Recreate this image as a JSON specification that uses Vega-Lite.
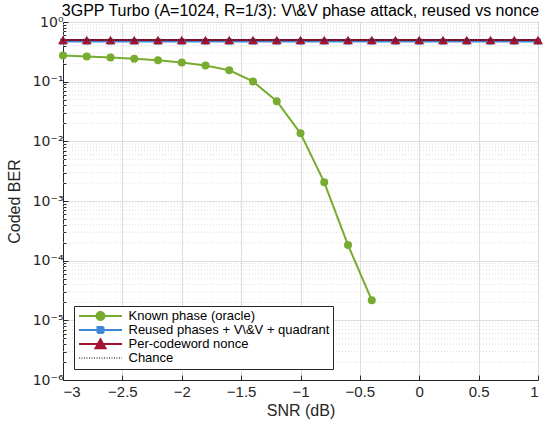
{
  "$schema": "https://vega.github.io/schema/vega-lite/v6.json",
  "autosize": "none",
  "width": 475,
  "height": 358,
  "padding": {"left": 63, "top": 22, "right": 12, "bottom": 46},
  "background": "white",
  "title": {
    "text": "3GPP Turbo (A=1024, R=1/3): V\\&V phase attack, reused vs nonce",
    "font": "Liberation Sans",
    "fontSize": 16,
    "fontWeight": "normal",
    "color": "#000000",
    "anchor": "middle",
    "offset": -4
  },
  "config": {
    "font": "Liberation Sans",
    "view": {"stroke": "#262626", "strokeWidth": 1},
    "axis": {
      "labelFont": "Liberation Sans",
      "labelColor": "#262626",
      "labelFontSize": 15,
      "titleFont": "Liberation Sans",
      "titleFontSize": 16,
      "titleFontWeight": "normal",
      "titleColor": "#262626",
      "domainColor": "#262626",
      "tickColor": "#262626",
      "gridColor": "#dedede",
      "gridOpacity": 1
    },
    "legend": {
      "orient": "bottom-left",
      "offset": 11,
      "fillColor": "white",
      "strokeColor": "#262626",
      "padding": 3.5,
      "rowPadding": 0,
      "clipHeight": 13,
      "labelFont": "Liberation Sans",
      "labelFontSize": 13,
      "labelColor": "#000000",
      "labelOffset": 38,
      "labelLimit": 320,
      "symbolSize": 100
    }
  },
  "datasets": {
    "curves": [
      {"snr": -3.0, "ber": 0.275, "series": "Known phase (oracle)"},
      {"snr": -2.8, "ber": 0.265, "series": "Known phase (oracle)"},
      {"snr": -2.6, "ber": 0.255, "series": "Known phase (oracle)"},
      {"snr": -2.4, "ber": 0.241, "series": "Known phase (oracle)"},
      {"snr": -2.2, "ber": 0.228, "series": "Known phase (oracle)"},
      {"snr": -2.0, "ber": 0.21, "series": "Known phase (oracle)"},
      {"snr": -1.8, "ber": 0.187, "series": "Known phase (oracle)"},
      {"snr": -1.6, "ber": 0.155, "series": "Known phase (oracle)"},
      {"snr": -1.4, "ber": 0.101, "series": "Known phase (oracle)"},
      {"snr": -1.2, "ber": 0.047, "series": "Known phase (oracle)"},
      {"snr": -1.0, "ber": 0.0136, "series": "Known phase (oracle)"},
      {"snr": -0.8, "ber": 0.00206, "series": "Known phase (oracle)"},
      {"snr": -0.6, "ber": 0.000183, "series": "Known phase (oracle)"},
      {"snr": -0.4, "ber": 0.0000218, "series": "Known phase (oracle)"},
      {"snr": -3.0, "ber": 0.47, "series": "Reused phases + V\\&V + quadrant"},
      {"snr": -2.8, "ber": 0.47, "series": "Reused phases + V\\&V + quadrant"},
      {"snr": -2.6, "ber": 0.47, "series": "Reused phases + V\\&V + quadrant"},
      {"snr": -2.4, "ber": 0.47, "series": "Reused phases + V\\&V + quadrant"},
      {"snr": -2.2, "ber": 0.47, "series": "Reused phases + V\\&V + quadrant"},
      {"snr": -2.0, "ber": 0.47, "series": "Reused phases + V\\&V + quadrant"},
      {"snr": -1.8, "ber": 0.47, "series": "Reused phases + V\\&V + quadrant"},
      {"snr": -1.6, "ber": 0.47, "series": "Reused phases + V\\&V + quadrant"},
      {"snr": -1.4, "ber": 0.47, "series": "Reused phases + V\\&V + quadrant"},
      {"snr": -1.2, "ber": 0.47, "series": "Reused phases + V\\&V + quadrant"},
      {"snr": -1.0, "ber": 0.47, "series": "Reused phases + V\\&V + quadrant"},
      {"snr": -0.8, "ber": 0.47, "series": "Reused phases + V\\&V + quadrant"},
      {"snr": -0.6, "ber": 0.47, "series": "Reused phases + V\\&V + quadrant"},
      {"snr": -0.4, "ber": 0.47, "series": "Reused phases + V\\&V + quadrant"},
      {"snr": -0.2, "ber": 0.47, "series": "Reused phases + V\\&V + quadrant"},
      {"snr": 0.0, "ber": 0.47, "series": "Reused phases + V\\&V + quadrant"},
      {"snr": 0.2, "ber": 0.47, "series": "Reused phases + V\\&V + quadrant"},
      {"snr": 0.4, "ber": 0.47, "series": "Reused phases + V\\&V + quadrant"},
      {"snr": 0.6, "ber": 0.47, "series": "Reused phases + V\\&V + quadrant"},
      {"snr": 0.8, "ber": 0.47, "series": "Reused phases + V\\&V + quadrant"},
      {"snr": 1.0, "ber": 0.47, "series": "Reused phases + V\\&V + quadrant"},
      {"snr": -3.0, "ber": 0.5, "series": "Per-codeword nonce"},
      {"snr": -2.8, "ber": 0.5, "series": "Per-codeword nonce"},
      {"snr": -2.6, "ber": 0.5, "series": "Per-codeword nonce"},
      {"snr": -2.4, "ber": 0.5, "series": "Per-codeword nonce"},
      {"snr": -2.2, "ber": 0.5, "series": "Per-codeword nonce"},
      {"snr": -2.0, "ber": 0.5, "series": "Per-codeword nonce"},
      {"snr": -1.8, "ber": 0.5, "series": "Per-codeword nonce"},
      {"snr": -1.6, "ber": 0.5, "series": "Per-codeword nonce"},
      {"snr": -1.4, "ber": 0.5, "series": "Per-codeword nonce"},
      {"snr": -1.2, "ber": 0.5, "series": "Per-codeword nonce"},
      {"snr": -1.0, "ber": 0.5, "series": "Per-codeword nonce"},
      {"snr": -0.8, "ber": 0.5, "series": "Per-codeword nonce"},
      {"snr": -0.6, "ber": 0.5, "series": "Per-codeword nonce"},
      {"snr": -0.4, "ber": 0.5, "series": "Per-codeword nonce"},
      {"snr": -0.2, "ber": 0.5, "series": "Per-codeword nonce"},
      {"snr": 0.0, "ber": 0.5, "series": "Per-codeword nonce"},
      {"snr": 0.2, "ber": 0.5, "series": "Per-codeword nonce"},
      {"snr": 0.4, "ber": 0.5, "series": "Per-codeword nonce"},
      {"snr": 0.6, "ber": 0.5, "series": "Per-codeword nonce"},
      {"snr": 0.8, "ber": 0.5, "series": "Per-codeword nonce"},
      {"snr": 1.0, "ber": 0.5, "series": "Per-codeword nonce"},
      {"snr": -3.0, "ber": 0.5, "series": "Chance"},
      {"snr": 1.0, "ber": 0.5, "series": "Chance"}
    ],
    "minor": [
      {"v": 2e-6}, {"v": 3e-6}, {"v": 4e-6}, {"v": 5e-6}, {"v": 6e-6}, {"v": 7e-6}, {"v": 8e-6}, {"v": 9e-6},
      {"v": 2e-5}, {"v": 3e-5}, {"v": 4e-5}, {"v": 5e-5}, {"v": 6e-5}, {"v": 7e-5}, {"v": 8e-5}, {"v": 9e-5},
      {"v": 2e-4}, {"v": 3e-4}, {"v": 4e-4}, {"v": 5e-4}, {"v": 6e-4}, {"v": 7e-4}, {"v": 8e-4}, {"v": 9e-4},
      {"v": 0.002}, {"v": 0.003}, {"v": 0.004}, {"v": 0.005}, {"v": 0.006}, {"v": 0.007}, {"v": 0.008}, {"v": 0.009},
      {"v": 0.02}, {"v": 0.03}, {"v": 0.04}, {"v": 0.05}, {"v": 0.06}, {"v": 0.07}, {"v": 0.08}, {"v": 0.09},
      {"v": 0.2}, {"v": 0.3}, {"v": 0.4}, {"v": 0.5}, {"v": 0.6}, {"v": 0.7}, {"v": 0.8}, {"v": 0.9}
    ]
  },
  "layer": [
    {
      "data": {"name": "minor"},
      "mark": {"type": "rule", "color": "#d6d6d6", "strokeWidth": 0.8, "strokeDash": [1, 2]},
      "encoding": {
        "y": {
          "field": "v",
          "type": "quantitative",
          "scale": {"type": "log", "domain": [0.000001, 1], "nice": false},
          "axis": {
            "orient": "left",
            "values": [2e-6, 3e-6, 4e-6, 5e-6, 6e-6, 7e-6, 8e-6, 9e-6, 2e-5, 3e-5, 4e-5, 5e-5, 6e-5, 7e-5, 8e-5, 9e-5, 2e-4, 3e-4, 4e-4, 5e-4, 6e-4, 7e-4, 8e-4, 9e-4, 0.002, 0.003, 0.004, 0.005, 0.006, 0.007, 0.008, 0.009, 0.02, 0.03, 0.04, 0.05, 0.06, 0.07, 0.08, 0.09, 0.2, 0.3, 0.4, 0.5, 0.6, 0.7, 0.8, 0.9],
            "labels": false,
            "grid": false,
            "domain": false,
            "tickSize": -3,
            "title": null
          }
        }
      }
    },
    {
      "data": {"name": "curves"},
      "transform": [{"filter": "datum.series !== 'Chance'"}],
      "mark": {"type": "line", "strokeWidth": 2},
      "encoding": {
        "x": {
          "field": "snr",
          "type": "quantitative",
          "scale": {"domain": [-3, 1], "nice": false},
          "axis": {
            "values": [-3, -2.5, -2, -1.5, -1, -0.5, 0, 0.5, 1],
            "format": ".1~f",
            "grid": true,
            "tickSize": -5,
            "labelPadding": 9,
            "title": "SNR (dB)",
            "titlePadding": 3
          }
        },
        "y": {
          "field": "ber",
          "type": "quantitative",
          "scale": {"type": "log", "domain": [0.000001, 1], "nice": false},
          "axis": {
            "orient": "left",
            "values": [1, 0.1, 0.01, 0.001, 0.0001, 0.00001, 0.000001],
            "labelExpr": "'10' + ['⁰','⁻¹','⁻²','⁻³','⁻⁴','⁻⁵','⁻⁶'][round(-log(datum.value)/LN10)]",
            "labelFont": "DejaVu Sans",
            "labelFontSize": 14,
            "grid": true,
            "tickSize": -5,
            "labelPadding": 5,
            "title": "Coded BER",
            "titlePadding": 10
          }
        },
        "color": {
          "field": "series",
          "type": "nominal",
          "scale": {
            "domain": ["Known phase (oracle)", "Reused phases + V\\&V + quadrant", "Per-codeword nonce", "Chance"],
            "range": ["#77AC30", "#3F87D6", "#A2142F", "#000000"]
          },
          "legend": {
            "title": null,
            "encode": {
              "symbols": {
                "update": {
                  "shape": {"signal": "datum.value === 'Known phase (oracle)' ? 'M-1,0H7.6M4.1,0A0.8,0.8 0 1,1 2.5,0A0.8,0.8 0 1,1 4.1,0Z' : datum.value === 'Chance' ? 'M-1,0H7.6' : datum.value === 'Per-codeword nonce' ? 'M-1,0H7.6M3.3,-0.95L4.3,0.85L2.3,0.85Z' : 'M-1,0H7.6M2.7,-0.6H3.9V0.6H2.7Z'"},
                  "fill": {"scale": "color", "field": "value"},
                  "stroke": {"scale": "color", "field": "value"},
                  "strokeWidth": {"signal": "datum.value === 'Chance' ? 1 : 2"},
                  "strokeDash": {"signal": "datum.value === 'Chance' ? [1, 1.5] : [1, 0]"},
                  "opacity": {"value": 1}
                }
              }
            }
          }
        }
      }
    },
    {
      "data": {"name": "curves"},
      "transform": [{"filter": "datum.series === 'Reused phases + V\\\\&V + quadrant'"}],
      "mark": {"type": "point", "shape": "square", "filled": true, "opacity": 1, "size": 36},
      "encoding": {
        "x": {"field": "snr", "type": "quantitative"},
        "y": {"field": "ber", "type": "quantitative", "axis": null},
        "color": {"field": "series", "type": "nominal"}
      }
    },
    {
      "data": {"name": "curves"},
      "transform": [{"filter": "datum.series === 'Per-codeword nonce'"}],
      "mark": {"type": "point", "shape": "triangle-up", "filled": true, "opacity": 1, "size": 100},
      "encoding": {
        "x": {"field": "snr", "type": "quantitative"},
        "y": {"field": "ber", "type": "quantitative", "axis": null},
        "color": {"field": "series", "type": "nominal"}
      }
    },
    {
      "data": {"name": "curves"},
      "transform": [{"filter": "datum.series === 'Known phase (oracle)'"}],
      "mark": {"type": "point", "shape": "circle", "filled": true, "opacity": 1, "size": 64},
      "encoding": {
        "x": {"field": "snr", "type": "quantitative"},
        "y": {"field": "ber", "type": "quantitative", "axis": null},
        "color": {"field": "series", "type": "nominal"}
      }
    },
    {
      "data": {"name": "curves"},
      "transform": [{"filter": "datum.series === 'Chance'"}],
      "mark": {"type": "line", "strokeWidth": 1, "strokeDash": [1, 1.5]},
      "encoding": {
        "x": {"field": "snr", "type": "quantitative"},
        "y": {"field": "ber", "type": "quantitative", "axis": null},
        "color": {"field": "series", "type": "nominal"}
      }
    }
  ],
  "resolve": {"axis": {"y": "independent"}}
}
